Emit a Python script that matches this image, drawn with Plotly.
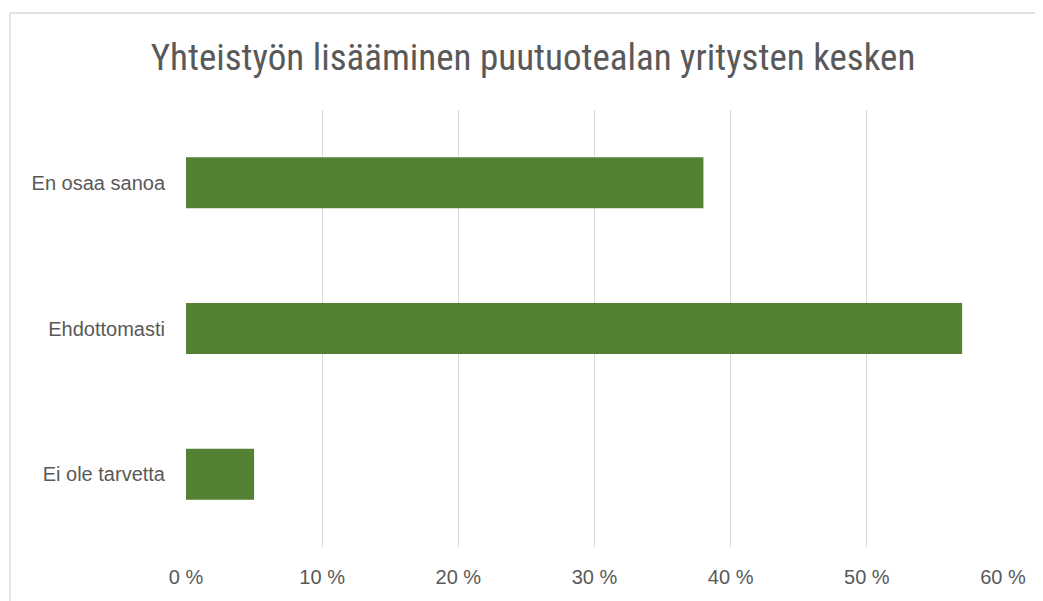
import plotly.graph_objects as go

categories = ["Ei ole tarvetta", "Ehdottomasti", "En osaa sanoa"]
values = [5, 57, 38]
tick_vals = [0, 10, 20, 30, 40, 50, 60]
tick_text = ["0 %", "10 %", "20 %", "30 %", "40 %", "50 %", "60 %"]
title_text = "Yhteistyön lisääminen puutuotealan yritysten kesken"

# page body adds an 8px offset; compensate
OFF = 8
W, H = 1043 - OFF, 601 - OFF
plot_left, plot_right, plot_top, plot_bottom = 186, 1003, 110, 547
ml, mt = plot_left - OFF, plot_top - OFF
pw = plot_right - plot_left
ph = plot_bottom - plot_top
mr = W - ml - pw
mb = H - mt - ph

fig = go.Figure(go.Bar(
    x=values, y=categories, orientation="h",
    marker=dict(color="#548235", line=dict(width=0)),
    width=0.35,
))

font_fam = "Liberation Sans Narrow, Roboto Condensed, Liberation Sans, sans-serif"
tick_font = dict(family="Liberation Sans, sans-serif", size=20, color="#595959")

fig.update_layout(
    width=W, height=H,
    margin=dict(l=ml, r=mr, t=mt, b=mb),
    paper_bgcolor="white", plot_bgcolor="white",
    showlegend=False,
    title=dict(text=title_text, x=(533 - OFF) / W, xanchor="center",
               y=1 - (57 - OFF) / H, yanchor="middle",
               font=dict(family=font_fam, size=37, color="#595959")),
    xaxis=dict(range=[0, 60], tickvals=tick_vals, ticktext=tick_text,
               showgrid=True, gridcolor="#d9d9d9", gridwidth=1.3, zeroline=False,
               showline=False, ticks="", ticklabelstandoff=16,
               tickfont=tick_font, fixedrange=True),
    yaxis=dict(showgrid=False, zeroline=False, showline=False, ticks="",
               ticklabelstandoff=20, tickfont=tick_font, fixedrange=True),
    shapes=[dict(type="rect", xref="paper", yref="paper",
                 x0=(10 - plot_left) / pw, x1=1.2, y0=-0.3,
                 y1=(plot_bottom - 13) / ph,
                 line=dict(color="#d9d9d9", width=1.3), fillcolor="rgba(0,0,0,0)",
                 layer="below")],
)

fig.write_html("out.html")
